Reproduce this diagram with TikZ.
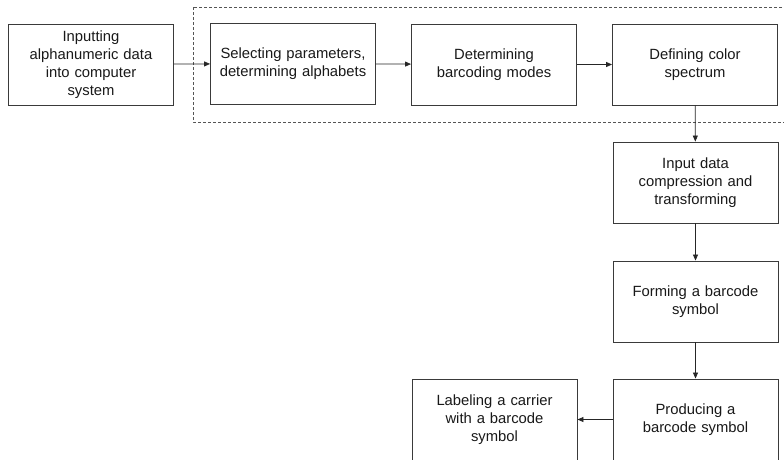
\documentclass[tikz,border=0pt]{standalone}
\usepackage{fontspec}
\setmainfont{Liberation Sans}
\usetikzlibrary{arrows.meta}
\definecolor{edgecol}{HTML}{3A3A3A}
\definecolor{dashcol}{HTML}{555555}
\begin{document}
\begin{tikzpicture}[x=1pt,y=-1pt,
  box/.style={draw=edgecol, line width=0.9pt, rectangle, minimum width=165pt, minimum height=81pt,
    text width=155pt, align=center, inner sep=0pt,
    font=\fontsize{14.8pt}{18pt}\selectfont, text=black!90},
  conn/.style={draw=black!85, line width=0.8pt, -{Triangle[length=6pt,width=5pt]}}]
\useasboundingbox (0,0) rectangle (784,459);
\clip (0,0) rectangle (784,459);
\fill[white] (0,0) rectangle (784,459);
\draw[draw=dashcol, line width=0.8pt, dash pattern=on 3pt off 2pt] (193,7) rectangle (800,122);
\node[box] (b1) at (91,64.5) {Inputting\\alphanumeric data\\into computer\\system};
\node[box] (b2) at (293,63.5) {Selecting parameters,\\determining alphabets};
\node[box] (b3) at (494,64.5) {Determining\\barcoding modes};
\node[box] (b4) at (695,64.5) {Defining color\\spectrum};
\node[box] (b5) at (695.5,182.5) {Input data\\compression and\\transforming};
\node[box] (b6) at (695.5,301.5) {Forming a barcode\\symbol};
\node[box] (b7) at (695.5,419.5) {Producing a\\barcode symbol};
\node[box] (b8) at (494.5,419.5) {Labeling a carrier\\with a barcode\\symbol};
\draw[conn] (b1) -- (b2);
\draw[conn] (b2) -- (b3);
\draw[conn] (b3) -- (b4);
\draw[conn] (b4) -- (b5);
\draw[conn] (b5) -- (b6);
\draw[conn] (b6) -- (b7);
\draw[conn] (b7) -- (b8);
\end{tikzpicture}
\end{document}
